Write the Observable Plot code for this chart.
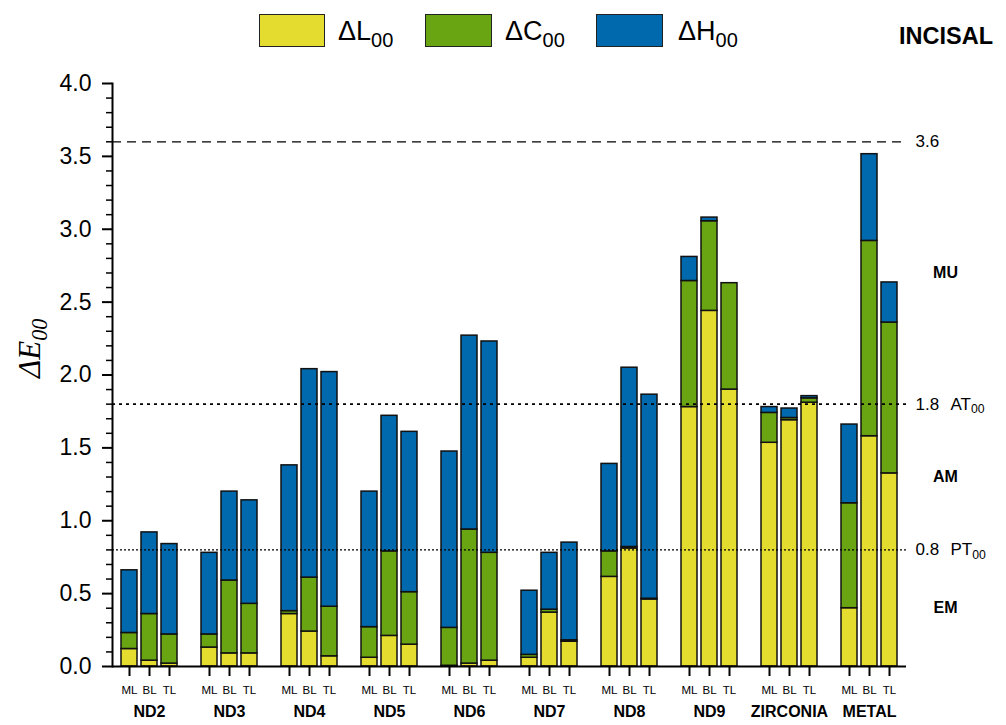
<!DOCTYPE html>
<html>
<head>
<meta charset="utf-8">
<script src="https://cdn.jsdelivr.net/npm/d3@7"></script>
<script src="https://cdn.jsdelivr.net/npm/@observablehq/plot@0.6"></script>
<style>
html, body { margin: 0; padding: 0; background: #fff; overflow: hidden; }
#wrap { position: relative; width: 1006px; height: 725px; font-family: "Liberation Sans", Arial, sans-serif; color: #000; }
.sw { position: absolute; top: 14px; height: 33px; border: 1.5px solid #222; box-sizing: border-box; }
.lt { position: absolute; top: 19px; font-size: 27px; line-height: 24px; white-space: nowrap; }
.lt sub { font-size: 20px; vertical-align: -7px; line-height: 0; }
#incisal { position: absolute; left: 899px; top: 24px; font-size: 23.5px; font-weight: bold; line-height: 24px; }
</style>
</head>
<body>
<div id="wrap"></div>
<script>
// ---- data ----
const groups = ["ND2", "ND3", "ND4", "ND5", "ND6", "ND7", "ND8", "ND9", "ZIRCONIA", "METAL"];
const locations = ["ML", "BL", "TL"];
const components = ["ΔL00", "ΔC00", "ΔH00"];
const colors = ["#E5DC30", "#69A412", "#0068AC"];
// values per bar, group by group, in ML, BL, TL order
const dL = [0.12, 0.04, 0.02, 0.13, 0.09, 0.09, 0.36, 0.24, 0.07, 0.06, 0.21, 0.15, 0.005, 0.02, 0.04,
            0.06, 0.37, 0.17, 0.615, 0.81, 0.46, 1.78, 2.44, 1.90, 1.535, 1.69, 1.81, 0.40, 1.58, 1.325];
const dC = [0.11, 0.32, 0.20, 0.09, 0.50, 0.34, 0.02, 0.37, 0.34, 0.21, 0.58, 0.36, 0.26, 0.92, 0.74,
            0.02, 0.02, 0.01, 0.175, 0.01, 0.005, 0.865, 0.615, 0.73, 0.205, 0.015, 0.03, 0.72, 1.34, 1.035];
const dH = [0.43, 0.56, 0.62, 0.56, 0.61, 0.71, 1.00, 1.43, 1.61, 0.93, 0.93, 1.10, 1.21, 1.33, 1.45,
            0.44, 0.39, 0.67, 0.60, 1.23, 1.40, 0.165, 0.025, 0, 0.04, 0.065, 0.015, 0.54, 0.595, 0.275];
const thresholds = [3.6, 1.8, 0.8];
const thresholdNames = ["", "AT_00", "PT_00"];
const zoneNames = ["EM", "AM", "MU"];
const zoneMids = [0.4, 1.3, 2.7];
const yTicks = [0, 0.5, 1.0, 1.5, 2.0, 2.5, 3.0, 3.5, 4.0];
const yMinor = d3.range(0, 41).map(i => i / 10).filter((v, i) => i % 5 !== 0);

// ---- build tables ----
const xKeys = [];
const barKeys = [];
groups.forEach((g, gi) => {
  if (gi > 0) xKeys.push("gap" + gi);
  locations.forEach(l => { xKeys.push(g + "|" + l); barKeys.push(g + "|" + l); });
});
const series = [dL, dC, dH];
const rows = [];
barKeys.forEach((k, i) => {
  components.forEach((c, ci) => rows.push({key: k, component: c, value: series[ci][i]}));
});

const font = "'Liberation Sans', Arial, sans-serif";
const plot = Plot.plot({
  width: 1006,
  height: 725,
  marginLeft: 112,
  marginRight: 100,
  marginTop: 83,
  marginBottom: 59,
  style: {fontFamily: font, background: "white", overflow: "visible", color: "#000"},
  x: {domain: xKeys, paddingInner: 0.2, paddingOuter: 0.1},
  y: {domain: [0, 4]},
  color: {domain: components, range: colors},
  marks: [
    Plot.barY(rows, Plot.stackY({x: "key", y: "value", fill: "component", order: null, stroke: "#111", strokeWidth: 1.5})),
    Plot.ruleY([thresholds[0]], {stroke: "#000", strokeWidth: 1.3, strokeDasharray: "9,6"}),
    Plot.ruleY([thresholds[1]], {stroke: "#000", strokeWidth: 1.6, strokeDasharray: "3,4"}),
    Plot.ruleY([thresholds[2]], {stroke: "#000", strokeWidth: 1.3, strokeDasharray: "2,2"}),
    Plot.ruleY([0], {stroke: "#000", strokeWidth: 2}),
    Plot.frame({anchor: "left", stroke: "#000", strokeWidth: 2}),
    Plot.axisY({ticks: yTicks, tickSize: 10, tickPadding: 11, tickFormat: d => d.toFixed(1), fontSize: 23, strokeWidth: 2, label: null}),
    Plot.axisY({ticks: yMinor, tickSize: 6, tickFormat: () => "", strokeWidth: 1.5, label: null}),
    Plot.axisX({ticks: barKeys, tickSize: 10, tickPadding: 9, tickFormat: k => k.split("|")[1], fontSize: 11.5, strokeWidth: 2, label: null}),
    Plot.text(groups, {x: g => g + "|BL", frameAnchor: "bottom", dy: 50, text: d => d, fontSize: 16, fontWeight: "bold"}),
    Plot.text(thresholds, {y: d => d, frameAnchor: "right", dx: 9, textAnchor: "start", text: d => d.toFixed(1), fontSize: 17}),
    Plot.text(thresholds, {y: d => d, frameAnchor: "right", dx: 44, textAnchor: "start", text: (d, i) => thresholdNames[i], fontSize: 17}),
    Plot.text(zoneMids, {y: d => d, frameAnchor: "right", dx: 39, textAnchor: "middle", text: (d, i) => zoneNames[i], fontSize: 16, fontWeight: "bold"}),
    Plot.text(["ΔE_00"], {frameAnchor: "left", dx: -82, dy: 3, rotate: -90, text: d => d, fontSize: 31, fontStyle: "italic", fontFamily: "'Liberation Serif', 'Times New Roman', serif"})
  ]
});

// subscripts
plot.querySelectorAll("text").forEach(t => {
  const m = (t.textContent || "").match(/^(.*)_(\d+)$/);
  if (m && t.children.length === 0) {
    t.textContent = m[1];
    const ts = document.createElementNS("http://www.w3.org/2000/svg", "tspan");
    ts.setAttribute("font-size", "0.72em");
    ts.setAttribute("dy", "0.3em");
    ts.textContent = m[2];
    t.appendChild(ts);
  }
});

const wrap = document.getElementById("wrap");
wrap.appendChild(plot);
plot.style.position = "absolute";
plot.style.left = "0";
plot.style.top = "0";

// legend (HTML, above the plot area)
const legendPos = [{sw: 259, w: 66, tx: 338}, {sw: 425, w: 67, tx: 505}, {sw: 596, w: 67, tx: 678}];
components.forEach((c, i) => {
  const s = document.createElement("div");
  s.className = "sw";
  s.style.left = legendPos[i].sw + "px";
  s.style.width = legendPos[i].w + "px";
  s.style.background = colors[i];
  wrap.appendChild(s);
  const t = document.createElement("div");
  t.className = "lt";
  t.style.left = legendPos[i].tx + "px";
  t.innerHTML = c.slice(0, 2) + "<sub>" + c.slice(2) + "</sub>";
  wrap.appendChild(t);
});
const inc = document.createElement("div");
inc.id = "incisal";
inc.textContent = "INCISAL";
wrap.appendChild(inc);
</script>
</body>
</html>
